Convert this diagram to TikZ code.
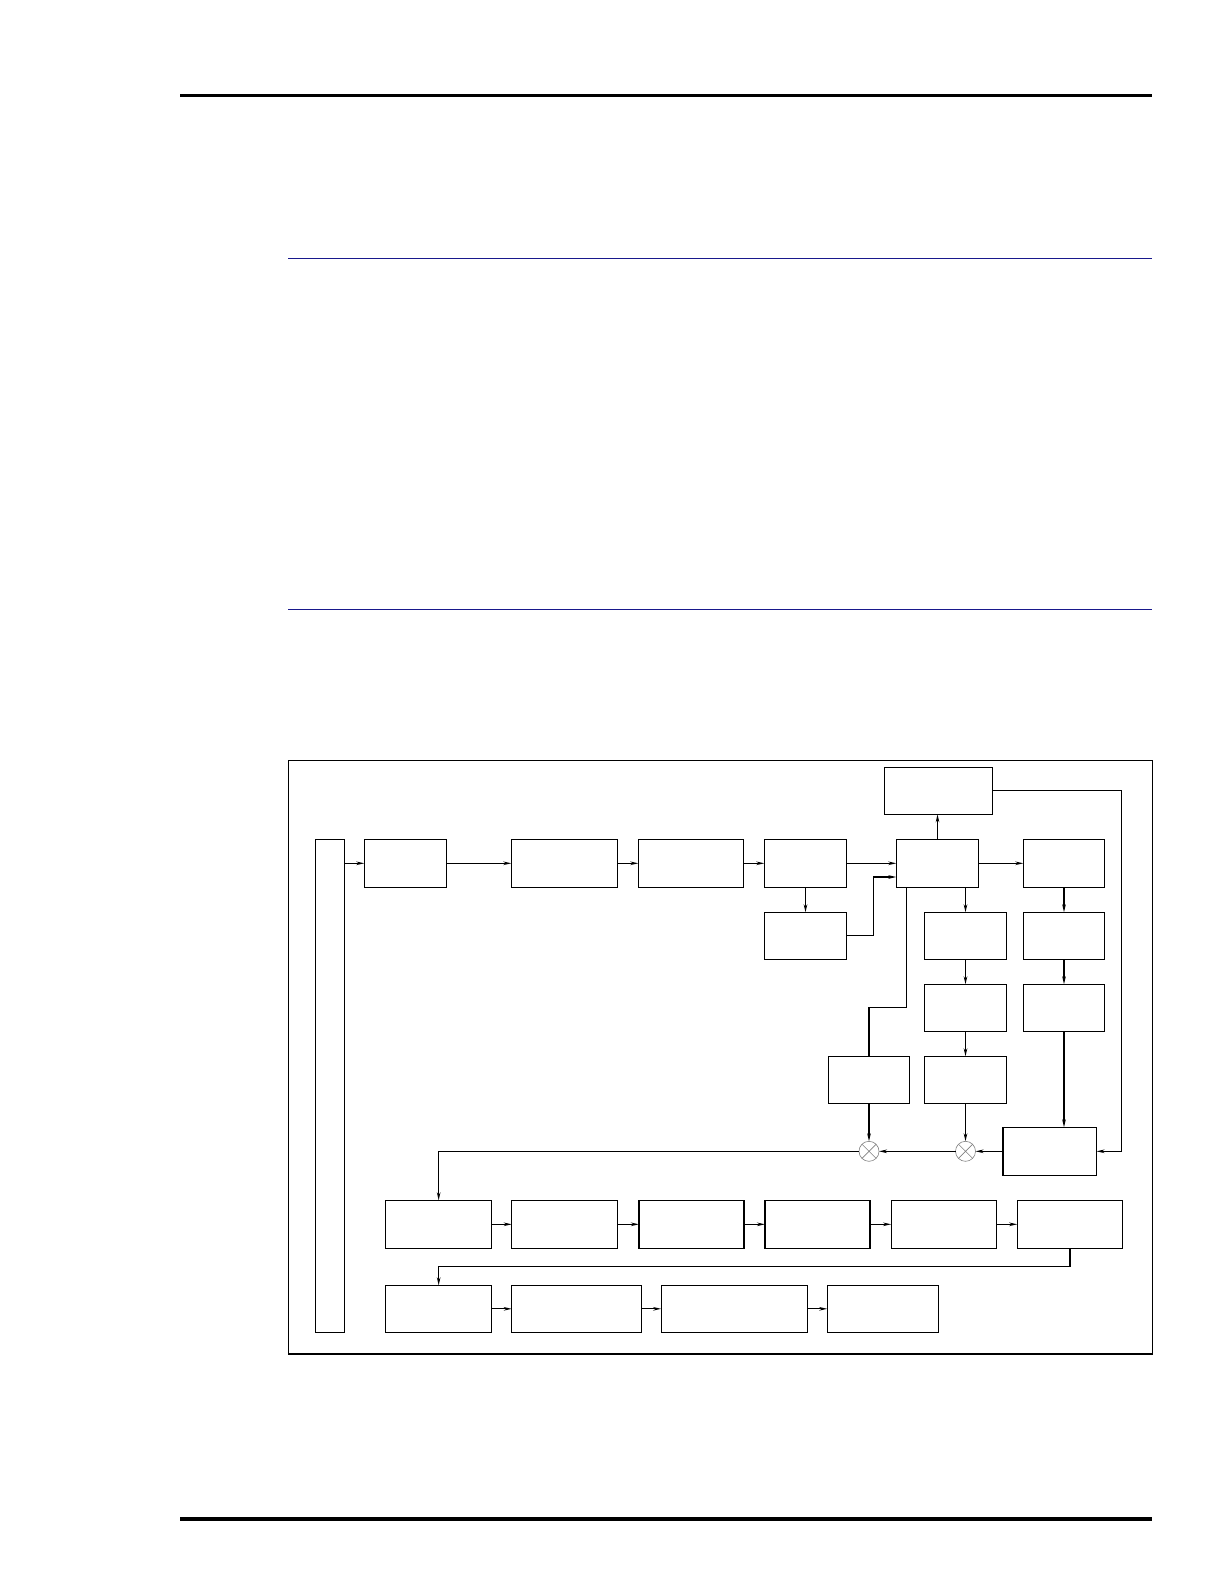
\documentclass[tikz,border=0pt]{standalone}
\usetikzlibrary{arrows.meta}
\definecolor{rulenavy}{RGB}{24,24,140}
\newcommand{\bx}[5]{\node[box, minimum width={#4-#2}, minimum height={#5-#3}] (#1) at ({(#2+#4)/2},{(#3+#5)/2}) {};}
\tikzset{
  box/.style={draw, line width=1.2pt, rectangle, inner sep=0pt, outer sep=0pt},
  arr/.style={line width=1.2pt, -{Stealth[length=8pt,width=3.6pt]}},
  wire/.style={line width=1.2pt},
  mult/.style={circle, draw=gray, line width=0.6pt, minimum size=20pt, inner sep=0pt, outer sep=0pt,
    path picture={\draw[gray, line width=0.6pt] (path picture bounding box.north west) -- (path picture bounding box.south east)
      (path picture bounding box.north east) -- (path picture bounding box.south west);}}
}
\begin{document}
\begin{tikzpicture}[x=1pt,y=-1pt]
\useasboundingbox (0,0) rectangle (1222,1584);
% page rules
\draw[line width=3pt] (180,95.5) -- (1152,95.5);
\draw[line width=4pt] (180,1519) -- (1152,1519);
\draw[rulenavy, line width=1.3pt] (288.3,258.3) -- (1152,258.3);
\draw[rulenavy, line width=1.3pt] (288.3,609.3) -- (1152,609.3);
% frame
\draw[line width=1.2pt] (288.3,760.3) rectangle (1152.3,1354);
% blocks
\bx{bar}{315.5}{839.3}{344.4}{1332.3}
\bx{A1}{364.3}{839.3}{446.3}{887.3}
\bx{A2}{511.3}{839.3}{617.7}{887.3}
\bx{A3}{638.3}{839.3}{743.3}{887.3}
\bx{A4}{764.3}{839.3}{846.7}{887.3}
\bx{A5}{896.3}{839.3}{978.7}{887.3}
\bx{A6}{1023.3}{839.3}{1104.7}{887.3}
\bx{T}{884.3}{767.3}{992.7}{814.3}
\bx{B4}{764.3}{912.3}{846.7}{959.3}
\bx{M1}{924.3}{912.3}{1006.7}{959.3}
\bx{R1}{1023.3}{912.3}{1104.7}{959.3}
\bx{M2}{924.3}{984.3}{1006.7}{1031.3}
\bx{R2}{1023.3}{984.3}{1104.7}{1031.3}
\bx{L3}{828.3}{1056.3}{909.7}{1103.3}
\bx{M3}{924.3}{1056.3}{1006.7}{1103.3}
\bx{S}{1003}{1127.3}{1096.5}{1175.3}
\bx{P1}{385.6}{1200.3}{491.7}{1248.3}
\bx{P2}{511.7}{1200.3}{617.8}{1248.3}
\bx{P3}{638.9}{1200.3}{743.9}{1248.3}
\bx{P4}{765}{1200.3}{870}{1248.3}
\bx{P5}{891.1}{1200.3}{996.1}{1248.3}
\bx{P6}{1017.2}{1200.3}{1122.8}{1248.3}
\bx{Q1}{385.6}{1285.3}{491.7}{1332.3}
\bx{Q2}{511.7}{1285.3}{641.1}{1332.3}
\bx{Q3}{661.1}{1285.3}{807.2}{1332.3}
\bx{Q4}{827.2}{1285.3}{938.3}{1332.3}
\node[mult] (c1) at (869,1151.3) {};
\node[mult] (c2) at (965.5,1151.3) {};
% junction coordinates
\coordinate (j1) at (873.7,877);
\coordinate (j2) at (1121.3,1151.3);
\coordinate (j3) at (906.3,1007.3);
\coordinate (j4) at (0,1266.3);
% connectors top row
\draw[arr] (bar.east |- A1.west) -- (A1.west);
\draw[arr] (A1.east) -- (A2.west);
\draw[arr] (A2.east) -- (A3.west);
\draw[arr] (A3.east) -- (A4.west);
\draw[arr] (A4.east) -- (A5.west);
\draw[arr] (A5.east) -- (A6.west);
\draw[arr] (A4.south) -- (B4.north);
\draw[arr] (B4.east) -| (j1) -- (j1 -| A5.west);
\draw[arr] (A5.north) -- (A5.north |- T.south);
\draw[arr] (M1.north |- A5.south) -- (M1.north);
\draw[arr] (M1.south) -- (M2.north);
\draw[arr] (M2.south) -- (M3.north);
\draw[arr] (A6.south) -- (R1.north);
\draw[arr] (R1.south) -- (R2.north);
\draw[arr] (R2.south) -- (R2.south |- S.north);
\draw[arr] (T.east) -| (j2) -- (j2 -| S.east);
\draw[wire] (j3 |- A5.south) -- (j3) -| (L3.north);
\draw[arr] (L3.south) -- (c1.north);
\draw[arr] (M3.south) -- (c2.north);
\draw[arr] (S.west) -- (c2.east);
\draw[arr] (c2.west) -- (c1.east);
\draw[arr] (c1.west) -| (P1.north);
% row 2
\draw[arr] (P1.east) -- (P2.west);
\draw[arr] (P2.east) -- (P3.west);
\draw[arr] (P3.east) -- (P4.west);
\draw[arr] (P4.east) -- (P5.west);
\draw[arr] (P5.east) -- (P6.west);
\draw[arr] (P6.south) -- (P6.south |- j4) -| (Q1.north);
% row 3
\draw[arr] (Q1.east) -- (Q2.west);
\draw[arr] (Q2.east) -- (Q3.west);
\draw[arr] (Q3.east) -- (Q4.west);
\end{tikzpicture}
\end{document}
